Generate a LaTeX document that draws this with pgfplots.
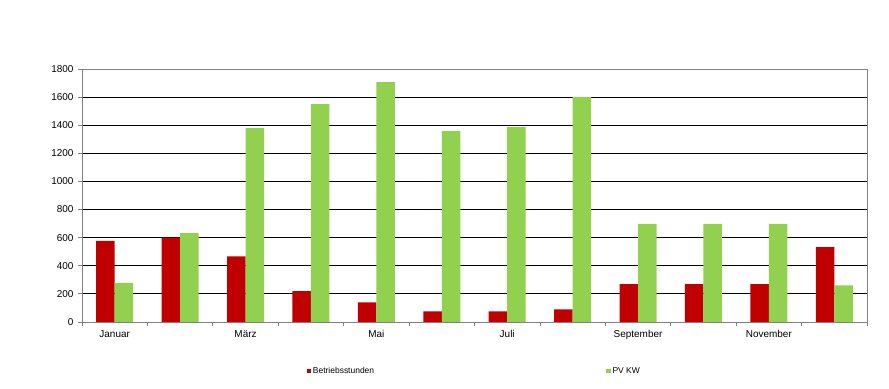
\documentclass[border=0pt]{standalone}
\usepackage{pgfplots}
\pgfplotsset{compat=1.18}
\usepackage{fontspec}
\setmainfont{Liberation Sans}
\definecolor{cred}{HTML}{C00000}
\definecolor{cgreen}{HTML}{92D050}
\definecolor{cgray}{HTML}{808080}
\begin{document}
\begin{tikzpicture}
\path (0,0) rectangle (889bp,389bp);
\begin{axis}[
  at={(82bp,67bp)}, anchor=south west,
  scale only axis, width=785bp, height=253bp,
  xmin=-0.5, xmax=11.5, ymin=0, ymax=1800,
  ybar=0pt, bar width=18.5bp,
  axis line style={cgray, line width=0.8bp},
  xtick={0,2,4,6,8,10},
  xticklabels={Januar,März,Mai,Juli,September,November},
  minor xtick={-0.5,0.5,...,11.5},
  major x tick style={draw=none},
  minor x tick style={cgray, line width=0.8bp},
  minor tick length=4bp,
  ytick={0,200,...,1800},
  y tick style={cgray, line width=0.8bp},
  major tick length=4bp,
  tick align=outside,
  tick pos=left,
  ymajorgrids, major grid style={black, line width=0.9bp},
  /pgf/number format/assume math mode=true,
  /pgf/number format/1000 sep={},
  ticklabel style={font=\fontsize{10}{12}\selectfont, text=black},
  yticklabel style={xshift=-1bp},
  xticklabel style={yshift=-1bp},
  legend columns=2,
  legend style={at={(0.282,-0.194)}, anchor=west, draw=none, fill=none,
    font=\fontsize{8.5}{10}\selectfont,
    /tikz/every even column/.append style={column sep=230bp}},
  legend image code/.code={\fill[#1] (0bp,-2.2bp) rectangle (4.4bp,2.2bp);},
]
\addplot[fill=cred, draw=none] coordinates {(0,578) (1,600) (2,467) (3,220) (4,140) (5,75) (6,75) (7,89) (8,270) (9,270) (10,270) (11,533)};
\addlegendentry{Betriebsstunden}
\addplot[fill=cgreen, draw=none] coordinates {(0,278) (1,633) (2,1380) (3,1550) (4,1707) (5,1358) (6,1387) (7,1600) (8,698) (9,698) (10,698) (11,261)};
\addlegendentry{PV KW}
\end{axis}
\end{tikzpicture}
\end{document}
